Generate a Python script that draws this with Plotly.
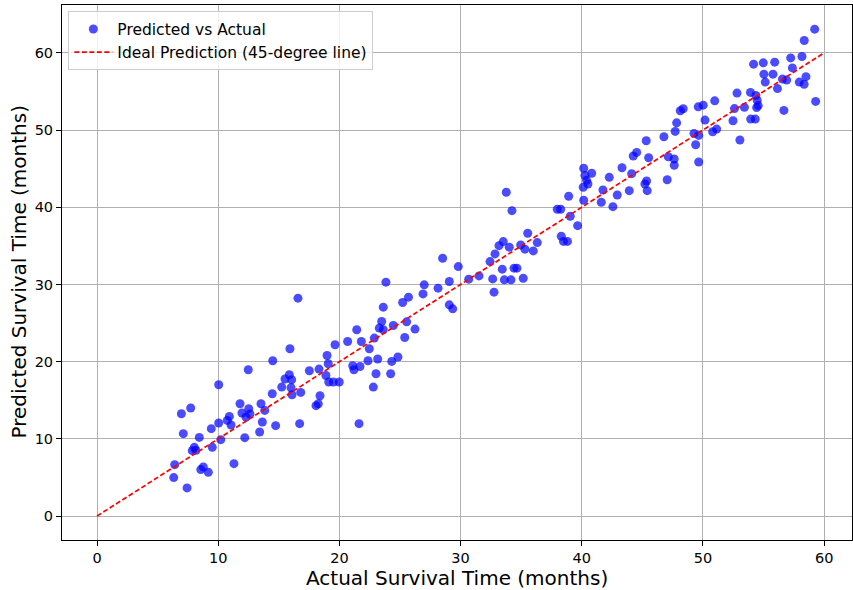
import plotly.graph_objects as go

actual = [12.48, 14.50, 10.04, 7.73, 6.96, 11.80, 13.53, 12.52, 11.96, 12.62,
          12.29, 13.84, 14.46, 15.24, 15.51, 15.87, 16.01, 10.92, 10.75, 11.06,
          10.04, 9.43, 13.64, 14.74, 13.42, 12.19, 7.12, 8.44, 10.21, 8.03,
          7.86, 8.17, 9.51, 6.41, 11.30, 8.77, 8.56, 9.18, 6.33, 7.43,
          23.84, 16.58, 25.70, 25.22, 23.62, 23.49, 23.29, 23.62, 24.45, 25.55,
          25.39, 21.43, 20.68, 21.81, 19.64, 22.88, 22.47, 15.92, 18.98, 22.36,
          23.16, 24.32, 24.83, 19.08, 18.32, 17.52, 18.89, 21.10, 21.20, 21.70,
          23.02, 24.23, 19.12, 19.50, 19.99, 16.81, 18.40, 22.80, 16.09, 16.06,
          26.24, 18.07, 18.26, 16.72, 21.62,
          33.77, 34.24, 35.54, 36.33, 33.52, 33.17, 34.02, 34.96, 35.31, 36.00,
          32.84, 32.43, 28.52, 29.81, 33.44, 34.41, 34.65, 31.52, 30.67, 32.65,
          33.61, 34.16, 35.17, 29.07, 27.00, 28.14, 32.76, 26.90, 29.07, 29.35,
          45.32, 44.53, 44.25, 45.52, 43.32, 44.12, 40.16, 40.82, 40.26, 40.40,
          40.51, 40.12, 42.27, 45.35, 45.21, 41.75, 43.92, 45.40, 42.93, 38.92,
          40.16, 41.61, 42.57, 37.98, 38.26, 39.05, 39.66, 38.31, 38.49, 38.82,
          54.18, 54.98, 55.92, 55.03, 55.78, 55.14, 56.15, 52.81, 53.92, 54.37,
          54.48, 54.56, 54.43, 50.97, 49.61, 50.02, 48.13, 48.37, 52.60, 53.42,
          50.17, 52.48, 53.94, 54.32, 47.83, 47.71, 49.26, 49.65, 50.80, 51.13,
          53.05, 46.78, 49.40, 47.14, 47.63, 47.63, 49.65, 47.05, 56.68, 56.56,
          56.91, 57.24, 58.17, 57.38, 57.95, 58.35, 58.50, 58.36, 59.22, 59.30]

predicted = [18.95, 20.12, 17.01, 14.00, 13.26, 14.55, 14.55, 13.91, 13.35, 13.22,
             12.83, 13.69, 15.85, 16.71, 17.75, 18.31, 16.62, 12.91, 12.39, 11.80,
             12.06, 11.32, 12.19, 11.71, 10.89, 10.16, 10.67, 10.19, 9.90, 8.90,
             8.47, 8.51, 8.90, 6.66, 6.79, 6.36, 6.02, 5.67, 4.98, 3.65,
             30.30, 28.23, 28.36, 27.66, 27.06, 25.20, 24.35, 24.13, 24.68, 25.16,
             23.13, 24.13, 22.61, 22.61, 22.19, 23.05, 21.67, 21.67, 20.80, 20.12,
             20.34, 20.03, 20.60, 19.73, 19.04, 18.82, 18.21, 19.47, 18.95, 19.38,
             18.43, 18.43, 17.36, 17.36, 17.36, 16.02, 15.59, 16.71, 15.72, 17.66,
             24.22, 14.30, 14.55, 11.97, 11.97,
             41.94, 39.56, 36.64, 35.42, 35.55, 35.03, 34.83, 35.12, 34.57, 34.35,
             33.96, 32.96, 33.40, 32.32, 31.98, 32.11, 32.11, 31.11, 30.69, 30.72,
             30.60, 30.60, 30.81, 30.38, 29.95, 29.52, 29.00, 28.78, 27.36, 26.84,
             48.62, 47.11, 46.64, 46.42, 45.12, 44.35, 45.05, 44.40, 44.11, 43.49,
             43.01, 42.59, 43.88, 43.40, 43.01, 42.24, 42.15, 42.15, 41.59, 41.42,
             40.91, 40.65, 40.08, 39.74, 39.74, 38.84, 37.62, 36.25, 35.58, 35.58,
             58.54, 58.71, 58.80, 57.24, 57.24, 56.21, 55.37, 54.79, 54.88, 54.49,
             53.84, 53.17, 52.91, 53.79, 53.01, 53.23, 52.50, 52.76, 52.78, 52.94,
             51.29, 51.20, 51.42, 51.42, 50.94, 49.83, 49.57, 49.31, 49.78, 50.13,
             48.71, 49.13, 48.10, 46.55, 46.25, 45.43, 45.86, 43.57, 52.55, 56.60,
             56.47, 59.35, 59.53, 58.05, 56.21, 55.93, 56.92, 61.60, 63.07, 53.71]

ideal_line = [0, 60]
tick_values = [0, 10, 20, 30, 40, 50, 60]

FONT = "DejaVu Sans"

fig = go.Figure()
fig.add_trace(go.Scatter(
    x=actual, y=predicted, mode="markers", name="Predicted vs Actual",
    marker=dict(color="rgba(0,0,255,0.7)", size=9, line=dict(width=0)),
))
fig.add_trace(go.Scatter(
    x=ideal_line, y=ideal_line, mode="lines", name="Ideal Prediction (45-degree line)",
    line=dict(color="red", width=1.7, dash="5px,2.5px"),
))

axis_common = dict(
    showgrid=True, gridcolor="#b0b0b0", gridwidth=1, automargin=False,
    zeroline=False, showline=True, mirror=True, linecolor="black", linewidth=1,
    ticks="outside", ticklen=5, tickcolor="black", tickwidth=1,
    tickvals=tick_values, tickfont=dict(family=FONT, size=14.5, color="black"),
)

fig.update_layout(
    width=853, height=590,
    margin=dict(l=62, r=1, t=5, b=50),
    paper_bgcolor="white", plot_bgcolor="white",
    font=dict(family=FONT, color="black"),
    xaxis=dict(range=[-2.89, 62.3], **axis_common),
    yaxis=dict(range=[-3.1, 66.2], **axis_common),
    legend=dict(x=0.008, y=0.988, xanchor="left", yanchor="top",
                bgcolor="rgba(255,255,255,0.8)", bordercolor="#cccccc", borderwidth=1,
                font=dict(family=FONT, size=15.5, color="black"),
                itemwidth=38, tracegroupgap=0),
    showlegend=True,
    annotations=[
        dict(text="Actual Survival Time (months)", xref="paper", yref="paper",
             x=0.5, y=0, yshift=-38, xanchor="center", yanchor="middle",
             showarrow=False, font=dict(family=FONT, size=20, color="black")),
        dict(text="Predicted Survival Time (months)", xref="paper", yref="paper",
             x=0, y=0.5, xshift=-44, xanchor="center", yanchor="middle", textangle=-90,
             showarrow=False, font=dict(family=FONT, size=20, color="black")),
    ],
)

fig.write_html("out.html", config={"displayModeBar": False},
               post_script="document.body.style.margin='0';")
